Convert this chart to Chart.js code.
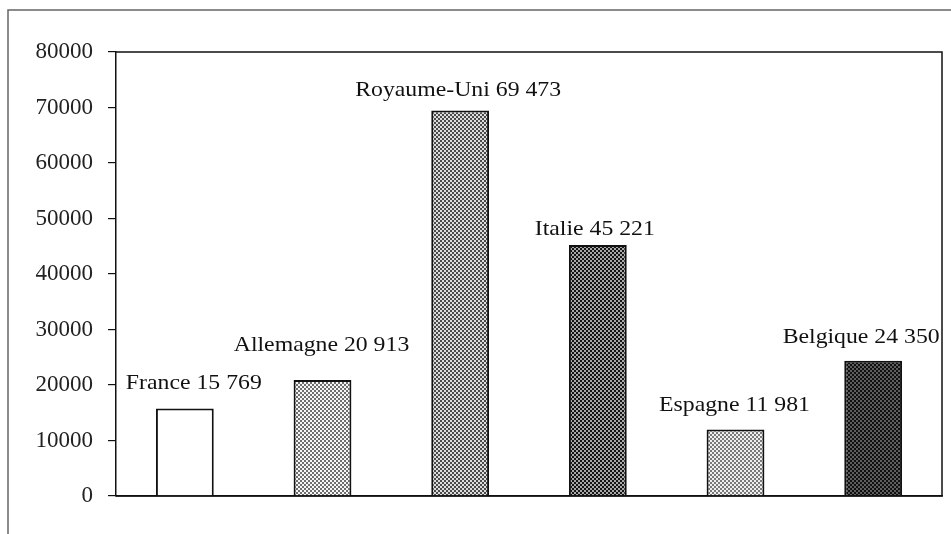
<!DOCTYPE html>
<html>
<head>
<meta charset="utf-8">
<script src="https://cdn.jsdelivr.net/npm/chart.js@4"></script>
<style>
  html, body { margin: 0; padding: 0; background: #fff; }
  #wrap { width: 951px; height: 534px; }
</style>
</head>
<body>
<div id="wrap"><canvas id="chart" width="951" height="534"></canvas></div>
<script>
// données
const pays = ['France', 'Allemagne', 'Royaume-Uni', 'Italie', 'Espagne', 'Belgique'];
const valeurs = [15769, 20913, 69473, 45221, 11981, 24350];
const graduations = [0, 10000, 20000, 30000, 40000, 50000, 60000, 70000, 80000];

// trames (fond, points) de chaque barre
const trames = [
  ['#ffffff', '#ffffff'],
  ['#f6f6f6', '#6e6e6e'],
  ['#dcdcdc', '#4a4a4a'],
  ['#a8a8a8', '#161616'],
  ['#eeeeee', '#7a7a7a'],
  ['#101010', '#5e5e5e']
];
// décalage des étiquettes [dx, dy au-dessus du haut de la barre]
const decalages = [[9, 19], [-1, 29], [-2, 14], [-3, 10], [-1, 19], [-12, 18]];

const police = '"Liberation Serif", "Times New Roman", serif';

function trame (fond, point) {
  const c = document.createElement('canvas');
  c.width = 4; c.height = 4;
  const g = c.getContext('2d');
  g.fillStyle = fond;
  g.fillRect(0, 0, 4, 4);
  g.fillStyle = point;
  g.fillRect(0, 0, 2, 2);
  g.fillRect(2, 2, 2, 2);
  return g.createPattern(c, 'repeat');
}

function milliers (v) {
  return String(v).replace(/\B(?=(\d{3})+(?!\d))/g, ' ');
}

// cadre extérieur + bordure haute/droite de la zone de tracé
const cadre = {
  id: 'cadre',
  beforeDraw (chart) {
    const ctx = chart.ctx;
    ctx.save();
    ctx.fillStyle = '#fff';
    ctx.fillRect(0, 0, chart.width, chart.height);
    ctx.strokeStyle = '#666';
    ctx.lineWidth = 1.5;
    ctx.beginPath();
    ctx.moveTo(8, chart.height);
    ctx.lineTo(8, 10);
    ctx.lineTo(chart.width, 10);
    ctx.stroke();
    ctx.restore();
  },
  afterDraw (chart) {
    const { left, right, top, bottom } = chart.chartArea;
    const ctx = chart.ctx;
    ctx.save();
    ctx.strokeStyle = '#111';
    ctx.lineWidth = 1.5;
    ctx.beginPath();
    ctx.moveTo(left, top);
    ctx.lineTo(right, top);
    ctx.lineTo(right, bottom);
    ctx.lineTo(left, bottom);
    ctx.stroke();
    ctx.restore();
  }
};

// étiquettes au-dessus des barres
const etiquettes = {
  id: 'etiquettes',
  afterDatasetsDraw (chart) {
    const ctx = chart.ctx;
    const meta = chart.getDatasetMeta(0);
    ctx.save();
    ctx.fillStyle = '#111';
    ctx.font = '22px ' + police;
    ctx.textAlign = 'center';
    ctx.textBaseline = 'alphabetic';
    meta.data.forEach((bar, i) => {
      const [dx, dy] = decalages[i];
      const txt = pays[i] + ' ' + milliers(valeurs[i]);
      ctx.save();
      ctx.translate(bar.x + dx, bar.y - dy);
      ctx.scale(1.08, 1);
      ctx.fillText(txt, 0, 0);
      ctx.restore();
    });
    ctx.restore();
  }
};

const chart = new Chart(document.getElementById('chart'), {
  type: 'bar',
  data: {
    labels: pays,
    datasets: [{
      data: valeurs,
      backgroundColor: trames.map(t => trame(t[0], t[1])),
      borderColor: '#111',
      borderWidth: 2,
      barPercentage: 0.42,
      categoryPercentage: 1
    }]
  },
  options: {
    responsive: false,
    animation: false,
    layout: { padding: { left: 0, right: 9, top: 52, bottom: 38 } },
    plugins: {
      legend: { display: false },
      tooltip: { enabled: false }
    },
    scales: {
      x: {
        grid: { display: false },
        border: { display: true, color: '#111', width: 1.5 },
        ticks: { display: false },
        afterFit (s) { s.height = 0; }
      },
      y: {
        min: 0,
        max: 80000,
        afterBuildTicks (s) { s.ticks = graduations.map(v => ({ value: v })); },
        afterFit (s) { s.width = 116; },
        grid: { drawOnChartArea: false, tickLength: 8, color: '#111', lineWidth: 1.2 },
        border: { display: true, color: '#111', width: 1.5 },
        ticks: {
          padding: 15,
          color: '#222',
          font: { family: police, size: 23 },
          callback: v => String(v)
        }
      }
    }
  },
  plugins: [cadre, etiquettes]
});
</script>
</body>
</html>
